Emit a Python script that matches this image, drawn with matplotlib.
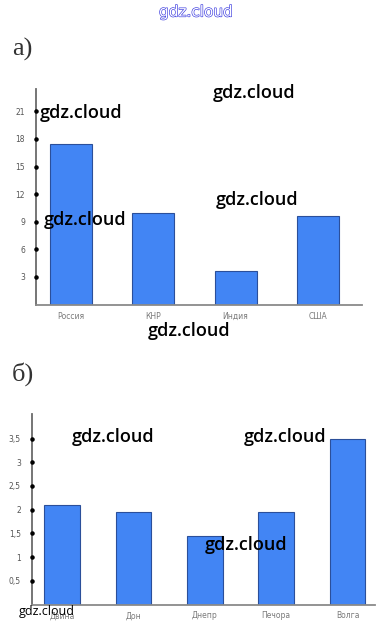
import matplotlib
matplotlib.use("Agg")
import matplotlib.pyplot as plt
import matplotlib.patheffects as pe
import matplotlib.transforms as mtransforms

# ---- data ----
countries = ["Россия", "КНР", "Индия", "США"]
country_values = [17.5, 10.0, 3.6, 9.6]
country_ticks = [3, 6, 9, 12, 15, 18, 21]
country_ticklabels = ["3", "6", "9", "12", "15", "18", "21"]

rivers = ["Двина", "Дон", "Днепр", "Печора", "Волга"]
river_values = [2.1, 1.95, 1.45, 1.95, 3.5]
river_ticks = [0.5, 1, 1.5, 2, 2.5, 3, 3.5]
river_ticklabels = ["0,5", "1", "1,5", "2", "2,5", "3", "3,5"]

W, H = 391, 635
fig = plt.figure(figsize=(W / 100, H / 100), dpi=100)
fig.patch.set_facecolor("white")

BAR = "#4285F4"
EDGE = "#2b4f9a"
AXC = "#8a8a8a"
LBL = "#7a7a7a"


def px_axes(left, right, bottom, top):
    return fig.add_axes([left / W, 1 - bottom / H, (right - left) / W, (bottom - top) / H])


def style(ax, ticks, ticklabels, cats):
    for s in ["top", "right"]:
        ax.spines[s].set_visible(False)
    ax.spines["left"].set_color("#6a6a6a")
    ax.spines["bottom"].set_color(AXC)
    ax.spines["left"].set_linewidth(1.3)
    ax.spines["bottom"].set_linewidth(1.3)
    ax.set_yticks(ticks)
    ax.set_yticklabels(ticklabels, fontsize=5.5, color="#555555")
    ax.tick_params(axis="y", length=0, pad=8)
    ax.set_xticks(range(len(cats)))
    ax.set_xticklabels(cats, fontsize=5.5, color=LBL)
    ax.tick_params(axis="x", length=0, pad=5)
    trans = mtransforms.blended_transform_factory(ax.transAxes, ax.transData)
    ax.scatter([0] * len(ticks), ticks, s=5, color="black", transform=trans,
               clip_on=False, zorder=5)


# ---- chart a ----
ax1 = px_axes(36, 362, 304.6, 89)
ax1.bar(range(len(countries)), country_values, width=0.51, color=BAR,
        edgecolor=EDGE, linewidth=0.8)
ax1.set_xlim(-0.425, -0.425 + 326 / 82.3)
ax1.set_ylim(0, 215.6 / 9.2)
style(ax1, country_ticks, country_ticklabels, countries)

# ---- chart b ----
ax2 = px_axes(32, 375, 604.5, 414)
ax2.bar(range(len(rivers)), river_values, width=0.5, color=BAR,
        edgecolor=EDGE, linewidth=0.8)
ax2.set_xlim(-0.42, -0.42 + 343 / 71.4)
ax2.set_ylim(0, 190.5 / 47.4)
style(ax2, river_ticks, river_ticklabels, rivers)

# ---- panel letters ----
fig.text(12 / W, 1 - 49 / H, "а)", fontsize=19, family="Liberation Serif",
         color="#333333", va="center", ha="left")
fig.text(12 / W, 1 - 374 / H, "б)", fontsize=19, family="Liberation Serif",
         color="#333333", va="center", ha="left")

# ---- watermarks ----
fig.text(196 / W, 1 - 12 / H, "gdz.cloud", fontsize=11, family="DejaVu Sans",
         color="white", ha="center", va="center",
         path_effects=[pe.withStroke(linewidth=0.9, foreground="#3a3adf")])
marks = [(81, 113), (254, 93), (85, 220), (257, 200), (189, 331),
         (113, 437), (285, 437), (246, 545)]
for x, y in marks:
    fig.text(x / W, 1 - y / H, "gdz.cloud", fontsize=13, family="Open Sans",
             weight="semibold", color="black", ha="center", va="center", zorder=10)
fig.text(47 / W, 1 - 612 / H, "gdz.cloud", fontsize=9, family="Open Sans",
         color="black", ha="center", va="center", zorder=10)

fig.savefig("out.png", dpi=100, facecolor="white")
